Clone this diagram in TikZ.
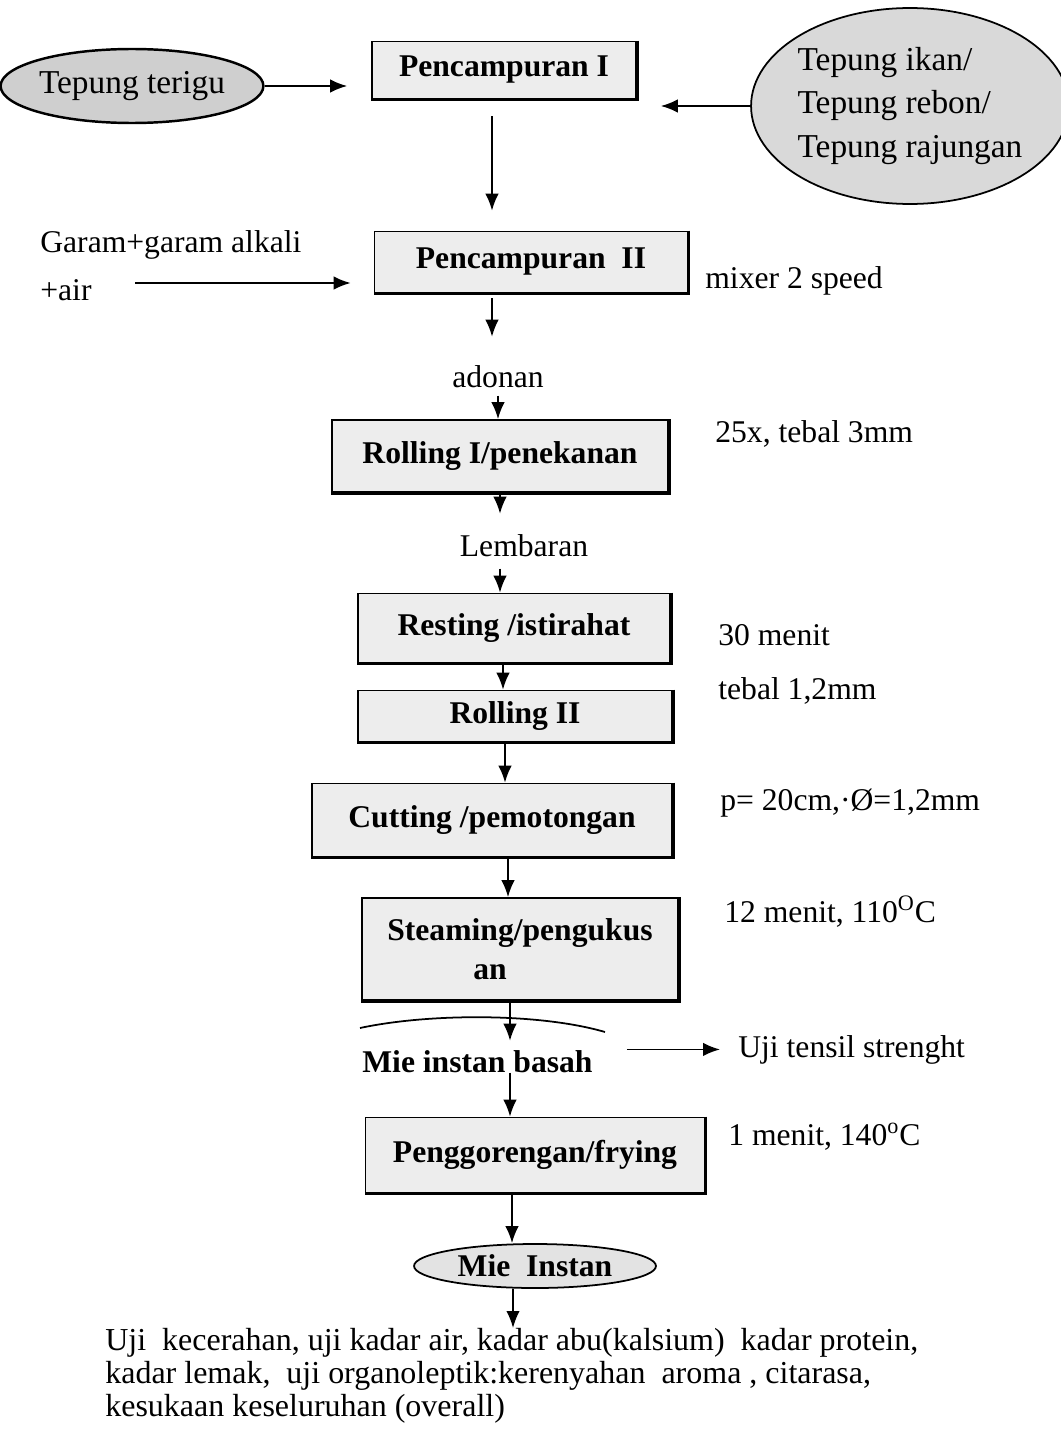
\documentclass[tikz,border=0pt]{standalone}
\usepackage{fontspec}
\setmainfont{Liberation Serif}
\usepackage{tikz}
\usetikzlibrary{shapes.geometric,arrows.meta,calc}

\begin{document}
\begin{tikzpicture}[x=0.02cm, y=-0.02cm,
    every node/.style={font=\fontsize{18}{22}\selectfont},
    box/.style={rectangle, draw, line width=1pt, fill=gray!14,
                font=\fontsize{18}{22}\selectfont\bfseries, inner sep=3pt},
    oval/.style={ellipse, draw, line width=1.4pt, fill=gray!38, inner sep=0pt},
    txt/.style={anchor=base west, inner sep=0pt},
    arr/.style={-{Latex[length=0.34cm, width=0.27cm]}, line width=1pt}]
    \useasboundingbox (0,0) rectangle (1061,1433);
    % process boxes
    \node[box, minimum width=5.28cm, minimum height=1.14cm] (p1) at (504,70) {Pencampuran I};
    \node[box, minimum width=6.26cm, minimum height=1.22cm] (p2) at (531,262) {Pencampuran~~II};
    \node[box, minimum width=6.72cm, minimum height=1.44cm] (r1) at (500,456) {Rolling I/penekanan};
    \node[box, minimum width=6.24cm, minimum height=1.38cm] (rest) at (514,628) {Resting /istirahat};
    \node[box, minimum width=6.28cm, minimum height=1.02cm] (r2) at (515,716) {Rolling II};
    \node[box, minimum width=7.2cm, minimum height=1.46cm] (cut) at (492,820) {Cutting /pemotongan};
    \node[box, minimum width=6.32cm, minimum height=2.04cm, align=center] (steam) at (520,949)
        {Steaming/pengukus\\an\hspace*{1.2cm}};
    \node[box, minimum width=6.78cm, minimum height=1.5cm] (fry) at (535,1155) {Penggorengan/frying};
    \foreach \n in {p1,p2,r1,rest,r2,cut,steam,fry}
        \draw[line width=2pt] (\n.north east) -- (\n.south east) -- (\n.south west);
    % raw materials and product
    \node[oval, minimum width=4.88cm, minimum height=1.48cm, font=\fontsize{19}{22}\selectfont] (t1) at (132,86) {Tepung terigu};
    \node[oval, fill=gray!30, line width=1pt, minimum width=6.2cm, minimum height=3.92cm, align=left,
          font=\fontsize{19}{24.5}\selectfont] (t2) at (910,106) {Tepung ikan/\\Tepung rebon/\\Tepung rajungan};
    \node[oval, fill=gray!22, line width=1pt, minimum width=4.84cm, minimum height=0.88cm,
          font=\fontsize{18}{22}\selectfont\bfseries] (mi) at (535,1266) {Mie~~Instan};
    % texts
    \node[txt] (g1) at (40,252) {Garam+garam alkali};
    \node[txt] (g2) at (40,300) {+air};
    \coordinate (gs) at (135,283);
    \node[txt] (mx) at (705,288) {mixer 2 speed};
    \node[anchor=base, inner sep=0pt] (ad) at (498,387) {adonan};
    \node[txt] (c1) at (715,442) {25x, tebal 3mm};
    \node[anchor=base, inner sep=0pt] (lb) at (524,556) {Lembaran};
    \node[txt] (c2) at (718,645) {30 menit};
    \node[txt] (c3) at (718,699) {tebal 1,2mm};
    \node[txt] (c4) at (720,810) {p= 20cm,·Ø=1,2mm};
    \node[txt] (c5) at (724,922) {12 menit, 110\textsuperscript{O}C};
    \node[txt, font=\fontsize{18}{22}\selectfont\bfseries] (mb) at (362,1072) {Mie instan basah};
    \node[txt] (ut) at (738,1057) {Uji tensil strenght};
    \node[txt] (c6) at (728,1145) {1 menit, 140\textsuperscript{o}C};
    \node[anchor=north west, inner sep=0pt, align=left, font=\fontsize{18.2}{18.8}\selectfont] (bt) at (105,1328)
        {Uji~~kecerahan, uji kadar air, kadar abu(kalsium)~~kadar protein,\\
         kadar lemak,~~uji organoleptik:kerenyahan~~aroma , citarasa,\\
         kesukaan keseluruhan (overall)};
    % arc above Mie instan basah
    \draw[line width=1pt] (360,1028) .. controls (430,1013) and (540,1013) .. (605,1032);
    % flow
    \draw[arr, shorten >=0.48cm] (t1.east) -- (t1.east -| p1.west);
    \draw[arr, shorten >=0.48cm] (t2.west) -- (t2.west -| p1.east);
    \draw[arr, shorten <=0.34cm, shorten >=0.4cm] ([xshift=-0.24cm]p1.south) -- ([xshift=-0.24cm]p1.south |- p2.north);
    \draw[arr, shorten >=0.46cm] (gs) -- (gs -| p2.west);
    \draw[arr, shorten <=0.1cm, shorten >=0.56cm] ([xshift=-0.78cm]p2.south) -- ([xshift=-0.78cm]p2.south |- ad.north);
    \draw[arr, shorten <=0.16cm] (ad.south) -- (ad.south |- r1.north);
    \draw[arr, shorten >=0.4cm] (r1.south) -- (r1.south |- lb.north);
    \draw[arr, shorten <=0.24cm] ([xshift=-0.48cm]lb.south) -- ([xshift=-0.48cm]lb.south |- rest.north);
    \draw[arr] ([xshift=-0.22cm]rest.south) -- ([xshift=-0.22cm]rest.south |- r2.north);
    \draw[arr] ([xshift=-0.2cm]r2.south) -- ([xshift=-0.2cm]r2.south |- cut.north);
    \draw[arr] ([xshift=0.32cm]cut.south) -- ([xshift=0.32cm]cut.south |- steam.north);
    \draw[arr, shorten >=0.18cm] ([xshift=-0.2cm]steam.south) -- ([xshift=-0.2cm]steam.south |- mb.north);
    \draw[arr, shorten <=0.68cm, shorten >=0.36cm] (mb.east |- ut.west) -- (ut.west);
    \draw[arr] ([xshift=-0.5cm]fry.north |- mb.south) -- ([xshift=-0.5cm]fry.north);
    \draw[arr] ([xshift=-0.46cm]fry.south) -- ([xshift=-0.46cm]fry.south |- mi.north);
    \draw[arr] ([xshift=-0.44cm]mi.south) -- ([xshift=-0.44cm]mi.south |- bt.north);
\end{tikzpicture}
\end{document}
